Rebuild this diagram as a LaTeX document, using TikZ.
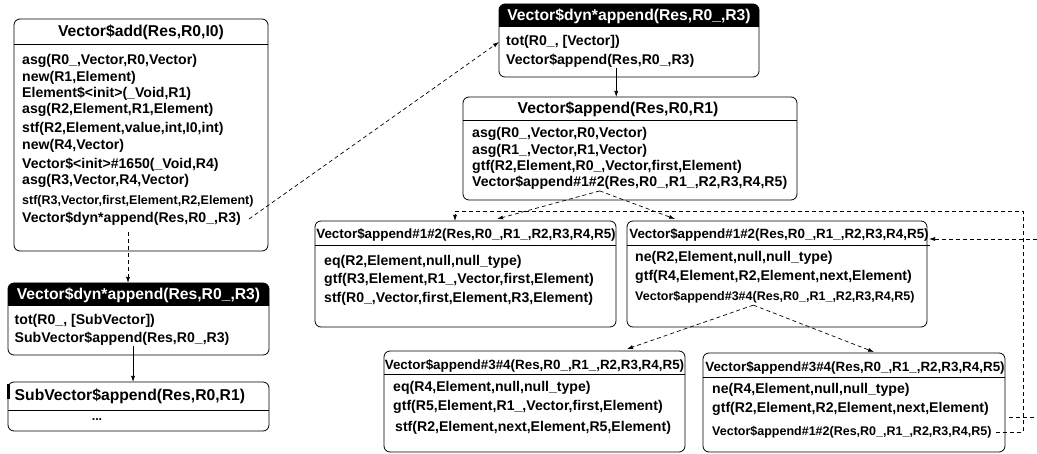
\documentclass[tikz,border=0pt]{standalone}
\usepackage{fontspec}
\setmainfont{Liberation Sans}
\usetikzlibrary{arrows.meta}
\tikzset{
  box/.style={draw=black, line width=0.8pt, rounded corners=6pt, inner sep=0pt, outer sep=0pt, anchor=north west},
  hfont/.style={font=\fontsize{15.7}{18}\selectfont\bfseries, inner sep=0pt},
  hsfont/.style={font=\fontsize{13.4}{16}\selectfont\bfseries, inner sep=0pt},
  tfont/.style={font=\fontsize{14.1}{17}\selectfont\bfseries, inner sep=0pt, anchor=west},
  sfont/.style={font=\fontsize{12.5}{15}\selectfont\bfseries, inner sep=0pt, anchor=west},
  divider/.style={line width=0.8pt},
  dline/.style={line width=0.7pt, dash pattern=on 4pt off 3pt},
  sline/.style={line width=0.7pt},
  tip/.style={-{Latex[length=6pt,width=4pt]}},
}
\begin{document}
\begin{tikzpicture}[x=1pt,y=-1pt]
\useasboundingbox (0,0) rectangle (1037,454);
\fill[white] (0,0) rectangle (1037,454);

% ---------- Vector$add ----------
\node[box, minimum width=254pt, minimum height=232pt] (B1) at (14,19) {};
\draw[divider] (B1.west |- 0,44) -- (B1.east |- 0,44);
\node[hfont] (h1) at (141,32) {Vector\$add(Res,R0,I0)};
\node[tfont] (a1)  at (22,61)  {asg(R0\_,Vector,R0,Vector)};
\node[tfont] (a2)  at (22,78)  {new(R1,Element)};
\node[tfont] (a3)  at (22,94)  {Element\$<init>(\_Void,R1)};
\node[tfont] (a4)  at (22,110) {asg(R2,Element,R1,Element)};
\node[tfont] (a5)  at (22,129) {stf(R2,Element,value,int,I0,int)};
\node[tfont] (a6)  at (22,146) {new(R4,Vector)};
\node[tfont] (a7)  at (22,165) {Vector\$<init>\#1650(\_Void,R4)};
\node[tfont] (a8)  at (22,181) {asg(R3,Vector,R4,Vector)};
\node[sfont] (a9)  at (22,201) {stf(R3,Vector,first,Element,R2,Element)};
\node[tfont] (a10) at (22,219) {Vector\$dyn*append(Res,R0\_,R3)};

% ---------- Vector$dyn*append (SubVector) ----------
\begin{scope}
  \clip (8,283) rectangle (269,306);
  \fill[black, rounded corners=6pt] (8,283) rectangle (269,355);
\end{scope}
\node[box, minimum width=261pt, minimum height=72pt] (B2) at (8,283) {};
\node[hfont, text=white] (h2) at (138.5,295) {Vector\$dyn*append(Res,R0\_,R3)};
\node[tfont] (c1) at (14.5,321) {tot(R0\_, [SubVector])};
\node[tfont] (c2) at (14.5,339) {SubVector\$append(Res,R0\_,R3)};

% ---------- SubVector$append ----------
\node[box, minimum width=261pt, minimum height=49pt] (B3) at (8,382) {};
\draw[divider] (B3.west |- 0,410) -- (B3.east |- 0,410);
\fill[black] (7,384) rectangle (9.5,399);
\node[hfont, anchor=west] (h3) at (14.5,396) {SubVector\$append(Res,R0,R1)};
\node[sfont, anchor=center] (c3) at (97,420) {...};

% ---------- Vector$dyn*append (Vector) ----------
\begin{scope}
  \clip (499,4) rectangle (759,27);
  \fill[black, rounded corners=6pt] (499,4) rectangle (759,77);
\end{scope}
\node[box, minimum width=260pt, minimum height=73pt] (B4) at (499,4) {};
\node[hfont, text=white] (h4) at (629,16) {Vector\$dyn*append(Res,R0\_,R3)};
\node[tfont] (d1) at (506,42) {tot(R0\_, [Vector])};
\node[tfont] (d2) at (506,61) {Vector\$append(Res,R0\_,R3)};

% ---------- Vector$append ----------
\node[box, minimum width=334pt, minimum height=103pt] (B5) at (463,97) {};
\draw[divider] (B5.west |- 0,120) -- (B5.east |- 0,120);
\node[hfont] (h5) at (618,109) {Vector\$append(Res,R0,R1)};
\node[tfont] (e1) at (472,134) {asg(R0\_,Vector,R0,Vector)};
\node[tfont] (e2) at (472,151) {asg(R1\_,Vector,R1,Vector)};
\node[tfont] (e3) at (472,167) {gtf(R2,Element,R0\_,Vector,first,Element)};
\node[tfont] (e4) at (472,183) {Vector\$append\#1\#2(Res,R0\_,R1\_,R2,R3,R4,R5)};

% ---------- Vector$append#1#2 (eq) ----------
\node[box, minimum width=301pt, minimum height=106pt] (B6) at (315,221) {};
\draw[divider] (B6.west |- 0,245) -- (B6.east |- 0,245);
\node[hsfont] (h6) at (466,235) {Vector\$append\#1\#2(Res,R0\_,R1\_,R2,R3,R4,R5)};
\node[tfont] (g1) at (324,262) {eq(R2,Element,null,null\_type)};
\node[tfont] (g2) at (324,280) {gtf(R3,Element,R1\_,Vector,first,Element)};
\node[tfont] (g3) at (324,299) {stf(R0\_,Vector,first,Element,R3,Element)};

% ---------- Vector$append#1#2 (ne) ----------
\node[box, minimum width=300pt, minimum height=106pt] (B7) at (627,221) {};
\draw[divider] (B7.west |- 0,245) -- ([xshift=3pt]B7.east |- 0,245);
\node[hsfont] (h7) at (779,235) {Vector\$append\#1\#2(Res,R0\_,R1\_,R2,R3,R4,R5)};
\node[tfont] (f1) at (635,258) {ne(R2,Element,null,null\_type)};
\node[tfont] (f2) at (635,277) {gtf(R4,Element,R2,Element,next,Element)};
\node[sfont] (f3) at (635,297) {Vector\$append\#3\#4(Res,R0\_,R1\_,R2,R3,R4,R5)};

% ---------- Vector$append#3#4 (eq) ----------
\node[box, minimum width=301pt, minimum height=101pt] (B8) at (384,351) {};
\draw[divider] (B8.west |- 0,374) -- (B8.east |- 0,374);
\node[hsfont] (h8) at (534.5,366) {Vector\$append\#3\#4(Res,R0\_,R1\_,R2,R3,R4,R5)};
\node[tfont] (k1) at (393,388) {eq(R4,Element,null,null\_type)};
\node[tfont] (k2) at (393,407) {gtf(R5,Element,R1\_,Vector,first,Element)};
\node[tfont] (k3) at (395,428) {stf(R2,Element,next,Element,R5,Element)};

% ---------- Vector$append#3#4 (ne) ----------
\node[box, minimum width=302pt, minimum height=99pt] (B9) at (703,353) {};
\draw[divider] (B9.west |- 0,377) -- (B9.east |- 0,377);
\node[hsfont] (h9) at (855,368) {Vector\$append\#3\#4(Res,R0\_,R1\_,R2,R3,R4,R5)};
\node[tfont] (i1) at (712,390) {ne(R4,Element,null,null\_type)};
\node[tfont] (i2) at (712,409) {gtf(R2,Element,R2,Element,next,Element)};
\node[sfont] (i3) at (712,432) {Vector\$append\#1\#2(Res,R0\_,R1\_,R2,R3,R4,R5)};

% ---------- connectors ----------
\draw[dline, tip] ([xshift=8pt]a10.east) -- (d1.west -| B4.west);
\draw[dline, tip] ([xshift=-3.5pt,yshift=-6pt]a10.south) -- ([xshift=-3.5pt]a10.south |- B2.north);
\draw[sline, tip] ([xshift=11pt]c2.south) -- ([xshift=11pt]c2.south |- B3.north);
\draw[sline, tip] ([xshift=16pt]d2.south) -- ([xshift=16pt]d2.south |- B5.north);

\coordinate (j5) at ([xshift=-30pt,yshift=-1pt]e4.south);
\draw[dline, tip] (j5) -- ([xshift=31.5pt,yshift=2pt]B6.north);
\draw[dline, tip] (j5) -- ([xshift=-102pt,yshift=2pt]B7.north);

\coordinate (j7) at ([xshift=-21.5pt,yshift=-2pt]f3.south);
\draw[dline, tip] (j7) -- ([xshift=92.5pt,yshift=2pt]B8.north);
\draw[dline, tip] (j7) -- ([xshift=20pt,yshift=1pt]B9.north);

% loop back from the last call of the ne-branch
\coordinate (loopR) at (1023,211);
\draw[dline, tip] ([xshift=4pt]i3.east) -| (loopR) -| ([xshift=-10.5pt]B6.north);

% edges leaving the frame on the right
\coordinate (inR) at (1037,239);
\draw[dline, tip] (inR) -- ([xshift=2pt]inR -| B7.east);
\coordinate (outR) at (1037,417);
\draw[dline] ([xshift=4pt]B9.east |- outR) -- (outR);
\end{tikzpicture}
\end{document}
